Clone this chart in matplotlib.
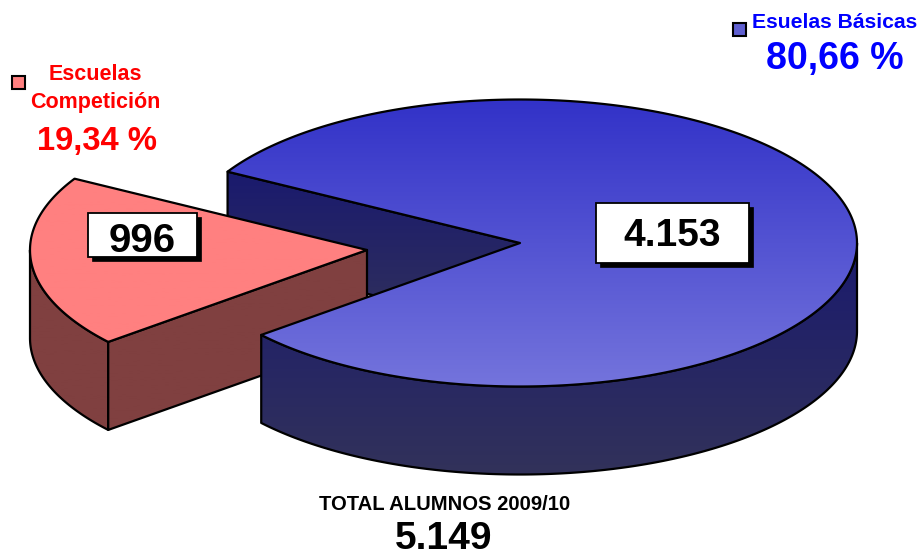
import numpy as np
import matplotlib
matplotlib.use('Agg')
import matplotlib.pyplot as plt
from matplotlib.patches import Polygon, Rectangle
from matplotlib.colors import LinearSegmentedColormap

values = [4153, 996]
names = ['Esuelas Básicas', 'Escuelas', 'Competición']
percent_labels = ['80,66 %', '19,34 %']
value_labels = ['4.153', '996']
total_title = 'TOTAL ALUMNOS 2009/10'
total_label = '5.149'

plt.rcParams['font.family'] = ['Liberation Sans', 'DejaVu Sans']

fig = plt.figure(figsize=(9.22, 5.58), dpi=100)
ax = fig.add_axes([0, 0, 1, 1])
ax.set_xlim(0, 922)
ax.set_ylim(558, 0)
ax.axis('off')

rx, ry, depth = 337, 143.5, 88
blue_c = (520, 243)
red_c = (367, 250)

red_span = 360 * values[1] / sum(values)
red_start = 150.2
red_end = red_start + red_span


def rim(c, a0, a1, dy=0):
    t = np.radians(np.linspace(a0, a1, 300))
    return np.column_stack([c[0] + rx * np.cos(t), c[1] - ry * np.sin(t) + dy])


def shape(pts, colors, y0, y1):
    # gradient clipped to the polygon, outline on top
    cmap = LinearSegmentedColormap.from_list('g', colors)
    im = ax.imshow(np.linspace(0, 1, 256).reshape(-1, 1), cmap=cmap, aspect='auto',
                   extent=[0, 922, y1, y0], zorder=z[0])
    p = Polygon(pts, closed=True, fc='none', ec='black', lw=1.6, joinstyle='round', zorder=z[0] + 0.5)
    ax.add_patch(p)
    im.set_clip_path(p)
    z[0] += 1


def wall(c, a0, a1):
    top = rim(c, a0, a1)
    bottom = rim(c, a0, a1, depth)
    return np.vstack([top, bottom[::-1]])


z = [1]
blue_top = ['#3232c8', '#7474dc']
blue_side = ['#1a1a6e', '#32325a']
red_side = ['#804040', '#804040']
red_top = ['#ff8080', '#ff8080']

# inner wall of the blue slice (seen through the gap)
a = rim(blue_c, red_start, red_start)[0]
inner = np.array([a, blue_c, (blue_c[0], blue_c[1] + depth), (a[0], a[1] + depth)])
shape(inner, blue_side, 172, 335)

# red slice
shape(wall(red_c, 180, red_end), red_side, 250, 430)
e = rim(red_c, red_end, red_end)[0]
cut = np.array([red_c, e, (e[0], e[1] + depth), (red_c[0], red_c[1] + depth)])
shape(cut, red_side, 250, 430)
shape(np.vstack([[red_c], rim(red_c, red_start, red_end)]), red_top, 170, 345)

# blue slice
shape(wall(blue_c, red_end, 360), blue_side, 243, 475)
shape(np.vstack([[blue_c], rim(blue_c, red_end, red_start + 360)]), blue_top, 100, 387)


def label(x, y, s, size, color='black', zo=3):
    ax.text(x, y, s, color=color, fontsize=size, fontweight='bold', ha='center', va='baseline', zorder=zo)


def value_box(x, y, w, h, s, size, base):
    ax.add_patch(Rectangle((x + 4, y + 4), w, h, fc='black', ec='black', lw=0.5, zorder=20))
    ax.add_patch(Rectangle((x, y), w, h, fc='white', ec='black', lw=1.3, zorder=21))
    label(x + w / 2, base, s, size, zo=22)


value_box(596, 203, 153, 60, value_labels[0], 28, 246)
value_box(88, 213, 109, 44, value_labels[1], 29, 252)


def swatch(x, y, color):
    ax.add_patch(Rectangle((x, y), 13, 13, fc=color, ec='black', lw=1.5, zorder=20))


swatch(733, 23, '#6060d0')
swatch(12, 76, '#ff8080')

label(834.5, 27.5, names[0], 15.2, '#0000ff')
label(835, 69, percent_labels[0], 27, '#0000ff')
label(95.5, 80, names[1], 15.5, '#ff0000')
label(95.5, 108, names[2], 15.5, '#ff0000')
label(97, 150, percent_labels[1], 23.6, '#ff0000')
label(445, 510, total_title, 14.6)
label(444, 549, total_label, 28)

fig.savefig('out.png', dpi=100)
